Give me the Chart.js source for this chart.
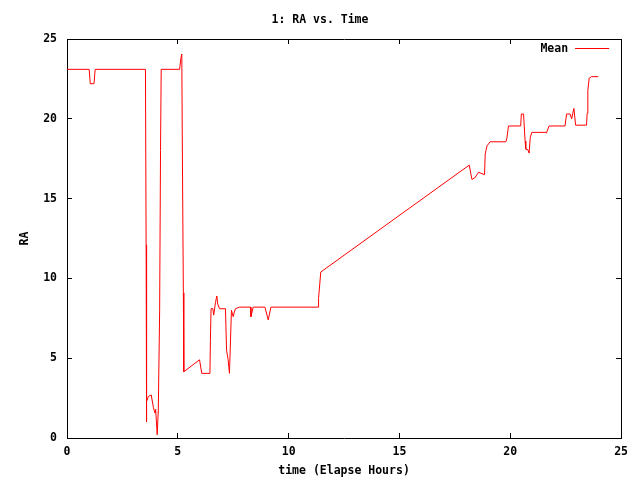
<!DOCTYPE html>
<html>
<head>
<meta charset="utf-8">
<script src="https://cdn.jsdelivr.net/npm/chart.js@4/dist/chart.umd.min.js"></script>
<style>
  html, body { margin: 0; padding: 0; background: #fff; }
  #wrap { width: 640px; height: 480px; }
</style>
</head>
<body>
<div id="wrap"><canvas id="raChart" width="640" height="480"></canvas></div>
<script>
// elapsed time in hours
const times = [
  0, 1.0, 1.05, 1.22, 1.27, 3.54, 3.57, 3.58, 3.6, 3.67, 3.8, 3.9, 3.97, 4.0, 4.07, 4.12,
  4.18, 4.22, 4.25, 5.08, 5.14, 5.18, 5.2, 5.25, 5.27, 5.98, 6.08, 6.45, 6.47, 6.5, 6.58,
  6.62, 6.7, 6.76, 6.8, 6.88, 7.15, 7.2, 7.27, 7.33, 7.42, 7.5, 7.55, 7.6, 7.78, 8.28,
  8.3, 8.4, 8.93, 9.08, 9.2, 11.33, 11.35, 11.45, 18.15, 18.27, 18.4, 18.57, 18.84, 18.87,
  18.95, 19.09, 19.8, 19.85, 19.92, 20.47, 20.5, 20.6, 20.67, 20.7, 20.8, 20.85, 20.9,
  20.97, 21.6, 21.63, 21.75, 22.47, 22.54, 22.7, 22.77, 22.87, 22.95, 23.44, 23.47, 23.5,
  23.56, 23.66, 23.97
];
// mean RA
const raMean = [
  23.1, 23.1, 22.2, 22.2, 23.1, 23.1, 12.1, 1.0, 2.3, 2.6, 2.7, 1.9, 1.56, 1.8, 0.2, 1.75,
  8.0, 18.0, 23.1, 23.1, 23.8, 24.06, 19.1, 9.1, 4.15, 4.9, 4.05, 4.05, 6.1, 8.1, 8.1,
  7.7, 8.5, 8.9, 8.4, 8.1, 8.1, 5.5, 4.9, 4.05, 8.0, 7.6, 7.9, 8.1, 8.2, 8.2,
  7.6, 8.2, 8.2, 7.4, 8.2, 8.2, 8.75, 10.4, 17.1, 16.2, 16.3, 16.65, 16.5, 17.8,
  18.3, 18.56, 18.56, 18.8, 19.55, 19.55, 20.3, 20.3, 18.6, 18.1, 18.05, 17.85, 18.8,
  19.15, 19.15, 19.1, 19.55, 19.55, 20.3, 20.3, 20.0, 20.65, 19.6, 19.6, 20.35, 21.76,
  22.54, 22.64, 22.64
];
const xTicks = [0, 5, 10, 15, 20, 25];
const yTicks = [0, 5, 10, 15, 20, 25];

const monoFont = { family: "'DejaVu Sans Mono', monospace", size: 11.5, weight: 'bold', lineHeight: '14px' };

// gnuplot style legend: text then a line sample, inside the top right corner
const innerLegend = {
  id: 'innerLegend',
  afterDraw(chart) {
    const ctx = chart.ctx;
    const area = chart.chartArea;
    const ds = chart.data.datasets[0];
    ctx.save();
    ctx.font = 'bold 11.5px "DejaVu Sans Mono", monospace';
    ctx.fillStyle = '#000';
    ctx.textAlign = 'right';
    ctx.textBaseline = 'middle';
    ctx.fillText(ds.label, area.right - 53, area.top + 10);
    ctx.strokeStyle = ds.borderColor;
    ctx.lineWidth = 1;
    ctx.beginPath();
    ctx.moveTo(area.right - 46, area.top + 9.5);
    ctx.lineTo(area.right - 12, area.top + 9.5);
    ctx.stroke();
    ctx.restore();
  }
};

const tickCallback = (values) => (v) => values.includes(v) ? String(v) : '';

new Chart(document.getElementById('raChart'), {
  type: 'scatter',
  data: {
    datasets: [{
      label: 'Mean',
      data: times.map((t, i) => ({ x: t, y: raMean[i] })),
      showLine: true,
      borderColor: '#ff0000',
      backgroundColor: '#ff0000',
      borderWidth: 1,
      pointRadius: 0,
      pointHoverRadius: 0,
      tension: 0
    }]
  },
  options: {
    responsive: false,
    animation: false,
    events: [],
    layout: { padding: 0 },
    plugins: {
      legend: { display: false },
      tooltip: { enabled: false },
      title: {
        display: true,
        text: '1: RA vs. Time',
        color: '#000',
        font: monoFont,
        padding: { top: 13, bottom: 12 }
      }
    },
    scales: {
      x: {
        type: 'linear',
        position: 'bottom',
        min: 0,
        max: 25,
        afterFit: (s) => { s.height = 42; },
        afterBuildTicks: (s) => { s.ticks = xTicks.map(v => ({ value: v })); },
        border: { color: '#000', width: 1 },
        grid: { drawOnChartArea: false, tickLength: -5, tickColor: '#000' },
        ticks: { color: '#000', font: monoFont, padding: 12, maxRotation: 0, callback: tickCallback(xTicks) },
        title: { display: true, text: 'time (Elapse Hours)', color: '#000', font: monoFont, padding: { top: 0, bottom: 1.5 } }
      },
      x2: {
        type: 'linear',
        position: 'top',
        min: 0,
        max: 25,
        afterFit: (s) => { s.height = 0; },
        afterBuildTicks: (s) => { s.ticks = xTicks.map(v => ({ value: v })); },
        border: { color: '#000', width: 1 },
        grid: { drawOnChartArea: false, tickLength: -5, tickColor: '#000' },
        ticks: { display: false }
      },
      y: {
        type: 'linear',
        position: 'left',
        min: 0,
        max: 25,
        afterFit: (s) => { s.width = 67; },
        afterBuildTicks: (s) => { s.ticks = yTicks.map(v => ({ value: v })); },
        border: { color: '#000', width: 1 },
        grid: { drawOnChartArea: false, tickLength: -5, tickColor: '#000' },
        ticks: { color: '#000', font: monoFont, padding: 15, callback: tickCallback(yTicks) },
        title: { display: true, text: 'RA', color: '#000', font: monoFont, padding: { top: 18, bottom: 0 } }
      },
      y2: {
        type: 'linear',
        position: 'right',
        min: 0,
        max: 25,
        afterFit: (s) => { s.width = 18; },
        afterBuildTicks: (s) => { s.ticks = yTicks.map(v => ({ value: v })); },
        border: { color: '#000', width: 1 },
        grid: { drawOnChartArea: false, tickLength: -5, tickColor: '#000' },
        ticks: { display: false }
      }
    }
  },
  plugins: [innerLegend]
});
</script>
</body>
</html>
